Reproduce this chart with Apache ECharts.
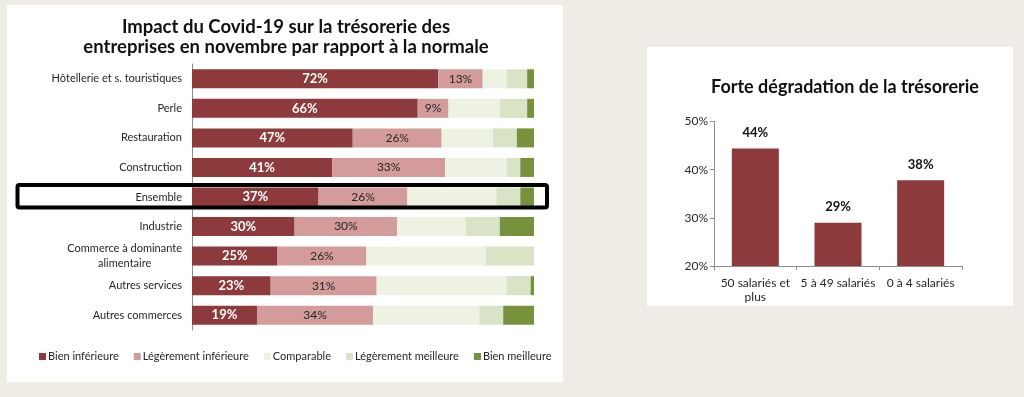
<!DOCTYPE html>
<html>
<head>
<meta charset="utf-8">
<script src="https://cdn.jsdelivr.net/npm/echarts@6/dist/echarts.min.js"></script>
<style>
  html, body { margin: 0; padding: 0; background: #eeece5; }
  #chart { width: 1024px; height: 397px; }
</style>
</head>
<body>
<div id="chart"></div>
<script>
// secteurs (haut -> bas)
const sectors = [
  'Hôtellerie et s. touristiques',
  'Perle',
  'Restauration',
  'Construction',
  'Ensemble',
  'Industrie',
  'Commerce à dominante\nalimentaire',
  'Autres services',
  'Autres commerces',
]
const bienInferieure = [72, 66, 47, 41, 37, 30, 25, 23, 19]
const legInferieure = [13, 9, 26, 33, 26, 30, 26, 31, 34]
const comparable = [7, 15, 15, 18, 26, 20, 35, 38, 31]
const legMeilleure = [6, 8, 7, 4, 7, 10, 14, 7, 7]
const bienMeilleure = [2, 2, 5, 4, 4, 10, 0, 1, 9]

// forte dégradation par taille
const sizes = ['50 salariés et\nplus', '5 à 49 salariés', '0 à 4 salariés']
const degradation = [44.4, 29, 37.8]
const pctTicks = [20, 30, 40, 50]

const FONT = 'Lato, "Open Sans", sans-serif'
const TXT = '#262626'

const chart = echarts.init(document.getElementById('chart'))

function stackSeries(name, data, color, label) {
  return {
    name,
    type: 'bar',
    stack: 'total',
    data,
    barWidth: 19,
    xAxisIndex: 0,
    yAxisIndex: 0,
    itemStyle: { color },
    label: label || { show: false },
    emphasis: { disabled: true },
  }
}

chart.setOption({
  backgroundColor: '#eeece5',
  animation: false,
  textStyle: { fontFamily: FONT },
  graphic: [
    { type: 'rect', z: -10, shape: { x: 7, y: 5, width: 556, height: 377 }, style: { fill: '#fff' } },
    { type: 'rect', z: -10, shape: { x: 647, y: 47, width: 366, height: 259 }, style: { fill: '#fff' } },
    {
      type: 'rect',
      z: 100,
      shape: { x: 17.5, y: 185, width: 529.5, height: 22.5, r: 2 },
      style: { fill: 'none', stroke: '#000', lineWidth: 4 },
    },
  ],
  title: [
    {
      text: 'Impact du Covid-19 sur la trésorerie des\nentreprises en novembre par rapport à la normale',
      left: 286,
      top: 17,
      padding: 0,
      textAlign: 'center',
      textStyle: { fontFamily: FONT, fontSize: 18.5, fontWeight: 'bold', color: '#111', lineHeight: 20 },
    },
    {
      text: 'Forte dégradation de la trésorerie',
      left: 845,
      top: 78,
      padding: 0,
      textAlign: 'center',
      textStyle: { fontFamily: FONT, fontSize: 18, fontWeight: 'bold', color: '#111' },
    },
  ],
  legend: {
    left: 34,
    top: 346,
    itemWidth: 7,
    itemHeight: 7,
    itemGap: 15,
    icon: 'rect',
    textStyle: { fontFamily: FONT, fontSize: 11, color: TXT, padding: [0, 0, 0, -3] },
    data: ['Bien inférieure', 'Légèrement inférieure', 'Comparable', 'Légèrement meilleure', 'Bien meilleure'],
  },
  grid: [
    { left: 192, top: 64, width: 342, height: 266 },
    { left: 714, top: 121.5, width: 248, height: 144.5 },
  ],
  xAxis: [
    { gridIndex: 0, type: 'value', min: 0, max: 100, show: false },
    {
      gridIndex: 1,
      type: 'category',
      data: sizes,
      axisLine: { lineStyle: { color: '#8c8c8c' } },
      axisTick: { show: true, length: 4, lineStyle: { color: '#8c8c8c' } },
      axisLabel: { interval: 0, color: TXT, fontSize: 12, fontFamily: FONT, margin: 10, lineHeight: 14 },
    },
  ],
  yAxis: [
    {
      gridIndex: 0,
      type: 'category',
      data: sectors,
      inverse: true,
      axisLine: { lineStyle: { color: '#8c8c8c' } },
      axisTick: { show: false },
      axisLabel: {
        interval: 0,
        color: TXT,
        fontSize: 11,
        fontFamily: FONT,
        margin: 10,
        lineHeight: 15,
        formatter: (v) => (v.includes('\n') ? v.split('\n').map((s) => '{c|' + s + '}').join('\n') : v),
        rich: { c: { align: 'center', fontSize: 11, fontFamily: FONT, color: TXT, lineHeight: 15 } },
      },
    },
    {
      gridIndex: 1,
      type: 'value',
      min: 20,
      max: 50,
      interval: 10,
      axisLine: { show: true, lineStyle: { color: '#8c8c8c' } },
      axisTick: { show: true, length: 4, lineStyle: { color: '#8c8c8c' } },
      splitLine: { show: false },
      axisLabel: {
        color: TXT,
        fontSize: 12,
        fontFamily: FONT,
        margin: 6,
        customValues: pctTicks,
        formatter: '{value}%',
      },
    },
  ],
  series: [
    stackSeries('Bien inférieure', bienInferieure, '#8c3a3b', {
      show: true,
      position: 'inside',
      color: '#fff',
      fontWeight: 'bold',
      fontSize: 13,
      fontFamily: FONT,
      formatter: '{c}%',
    }),
    stackSeries('Légèrement inférieure', legInferieure, '#d39c9b', {
      show: true,
      position: 'inside',
      color: TXT,
      fontSize: 12,
      fontFamily: FONT,
      formatter: '{c}%',
    }),
    stackSeries('Comparable', comparable, '#eef2e3'),
    stackSeries('Légèrement meilleure', legMeilleure, '#d9e3c6'),
    stackSeries('Bien meilleure', bienMeilleure, '#77913d'),
    {
      name: 'Forte dégradation',
      type: 'bar',
      xAxisIndex: 1,
      yAxisIndex: 1,
      data: degradation,
      barWidth: 47,
      itemStyle: { color: '#8c3a3b' },
      emphasis: { disabled: true },
      label: {
        show: true,
        position: 'top',
        distance: 9,
        color: '#111',
        fontWeight: 'bold',
        fontSize: 13,
        fontFamily: FONT,
        formatter: (p) => Math.round(p.value) + '%',
      },
    },
  ],
})
</script>
</body>
</html>
